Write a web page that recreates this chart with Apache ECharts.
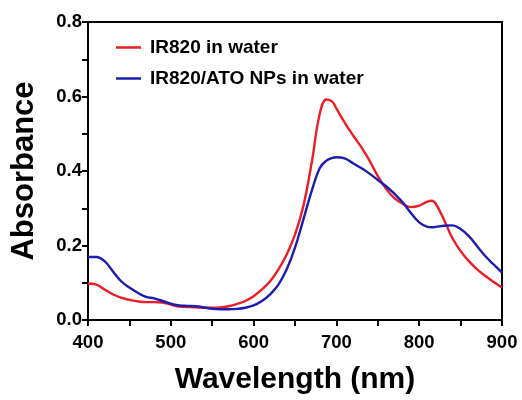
<!DOCTYPE html>
<html><head><meta charset="utf-8">
<script src="https://cdn.jsdelivr.net/npm/echarts@6/dist/echarts.min.js"></script>
<style>html,body{margin:0;padding:0;background:#fff}#c{width:522px;height:400px}</style>
</head><body><div id="c"></div>
<script>
const wavelengths = [400,410,420,430,440,450,460,470,480,490,500,510,520,530,540,550,560,570,580,590,600,610,620,630,640,650,660,670,680,688,695,700,710,720,730,740,750,760,770,780,790,800,810,815,820,830,840,850,860,870,880,890,900];
const ir820 = [0.098,0.095,0.082,0.069,0.060,0.054,0.050,0.048,0.048,0.047,0.041,0.036,0.035,0.034,0.033,0.033,0.034,0.037,0.043,0.051,0.064,0.082,0.104,0.136,0.176,0.229,0.305,0.420,0.555,0.592,0.586,0.568,0.530,0.496,0.464,0.428,0.386,0.352,0.327,0.312,0.303,0.307,0.318,0.320,0.312,0.269,0.220,0.185,0.158,0.136,0.118,0.102,0.087];
const ir820ato = [0.169,0.169,0.158,0.131,0.104,0.087,0.073,0.062,0.058,0.051,0.044,0.039,0.038,0.037,0.034,0.030,0.029,0.029,0.030,0.033,0.039,0.051,0.069,0.095,0.136,0.194,0.269,0.345,0.408,0.428,0.435,0.437,0.434,0.421,0.408,0.393,0.376,0.359,0.339,0.316,0.287,0.262,0.250,0.249,0.250,0.253,0.254,0.244,0.225,0.198,0.171,0.149,0.127];
const seriesNames = ['IR820 in water','IR820/ATO NPs in water'];
const xTitle = 'Wavelength (nm)';
const yTitle = 'Absorbance';

const font = 'Liberation Sans, Arial, sans-serif';
const chart = echarts.init(document.getElementById('c'));
const pair = (ys) => wavelengths.map((x,i)=>[x, ys[i]]);
chart.setOption({
  animation:false,
  grid:{left:88,right:20,top:22,bottom:79,show:true,borderColor:'#000',borderWidth:2,backgroundColor:'transparent'},
  legend:{orient:'vertical',left:111,top:33,itemGap:12,itemWidth:25,itemHeight:2.5,icon:'rect',
    textStyle:{fontFamily:font,fontWeight:'bold',fontSize:19,color:'#000',padding:[0,0,0,4]},
    data:seriesNames},
  xAxis:{type:'value',min:400,max:900,interval:100,
    name:xTitle,nameLocation:'middle',nameGap:45,
    nameTextStyle:{fontFamily:font,fontWeight:'bold',fontSize:30,color:'#000'},
    axisLine:{lineStyle:{color:'#000',width:2}},
    axisTick:{inside:false,length:6,lineStyle:{color:'#000',width:2}},
    minorTick:{show:true,splitNumber:2,length:6,lineStyle:{color:'#000',width:2}},
    splitLine:{show:false},
    axisLabel:{fontFamily:font,fontWeight:'bold',fontSize:18.5,color:'#000',margin:13}},
  yAxis:{type:'value',min:0,max:0.8,interval:0.2,
    name:yTitle,nameLocation:'middle',nameGap:48,
    nameTextStyle:{fontFamily:font,fontWeight:'bold',fontSize:31,color:'#000'},
    axisLine:{lineStyle:{color:'#000',width:2}},
    axisTick:{inside:false,length:6,lineStyle:{color:'#000',width:2}},
    minorTick:{show:true,splitNumber:2,length:6,lineStyle:{color:'#000',width:2}},
    splitLine:{show:false},
    axisLabel:{fontFamily:font,fontWeight:'bold',fontSize:18.5,color:'#000',margin:6,
      formatter:(v)=>v.toFixed(1)}},
  series:[
    {name:seriesNames[0],type:'line',smooth:0.4,symbol:'none',data:pair(ir820),
      lineStyle:{color:'#ee1c24',width:2.4},itemStyle:{color:'#ee1c24'}},
    {name:seriesNames[1],type:'line',smooth:0.4,symbol:'none',data:pair(ir820ato),
      lineStyle:{color:'#1c1cb0',width:2.4},itemStyle:{color:'#1c1cb0'}}
  ]
});
</script></body></html>
